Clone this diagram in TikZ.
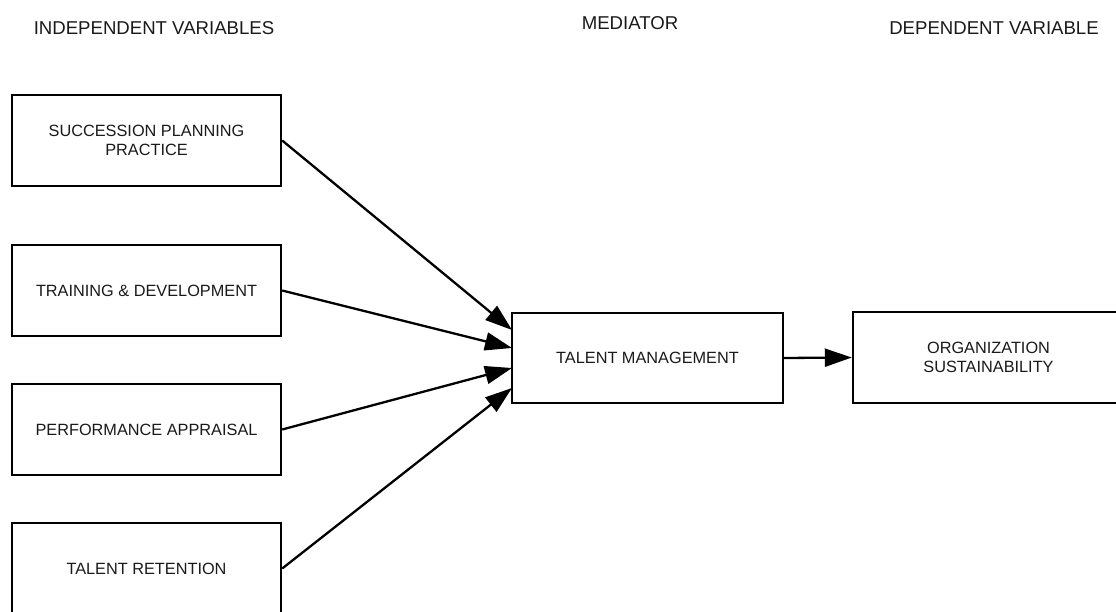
\documentclass[tikz,border=0pt]{standalone}
\usepackage{fontspec}
\setmainfont{Liberation Sans}
\usetikzlibrary{arrows.meta}
\definecolor{txt}{HTML}{1A1A1A}
\tikzset{
  box/.style={draw=black, line width=2.4pt, rectangle, minimum width=269pt, minimum height=91pt,
    inner sep=0pt, align=center, text=txt, font=\fontsize{16.3}{18.5}\selectfont},
  head/.style={inner sep=0pt, text=txt, font=\fontsize{18.6}{20}\selectfont},
  arr/.style={line width=2.3pt, -{Triangle[length=27pt,width=18pt]}}
}
\begin{document}
\begin{tikzpicture}[x=1pt,y=-1pt]
\useasboundingbox (0,0) rectangle (1116,612);
\fill[white] (0,0) rectangle (1116,612);
\node[head] (h1) at (154,28.5) {INDEPENDENT VARIABLES};
\node[head] (h2) at (630,23.5) {MEDIATOR};
\node[head] (h3) at (994,28.5) {DEPENDENT VARIABLE};
\node[box] (b1) at (146.5,140.5) {SUCCESSION PLANNING\\PRACTICE};
\node[box] (b2) at (146.5,290.5) {TRAINING \& DEVELOPMENT};
\node[box] (b3) at (146.5,429.5) {PERFORMANCE APPRAISAL};
\node[box] (b4) at (146.5,568.5) {TALENT RETENTION};
\node[box, minimum width=271pt, minimum height=90pt] (tm) at (647.5,358) {TALENT MANAGEMENT};
\node[box, minimum width=271pt] (org) at (988.5,357.5) {ORGANIZATION\\SUSTAINABILITY};
\coordinate (t1) at (512,330);
\coordinate (t2) at (512,348);
\coordinate (t3) at (512,368);
\coordinate (t4) at (512,388);
\draw[arr] (b1.east) -- (t1);
\draw[arr] (b2.east) -- (t2);
\draw[arr] (b3.east) -- (t3);
\draw[arr] (b4.east) -- (t4);
\draw[arr] (tm.east) -- (org.west);
\end{tikzpicture}
\end{document}
